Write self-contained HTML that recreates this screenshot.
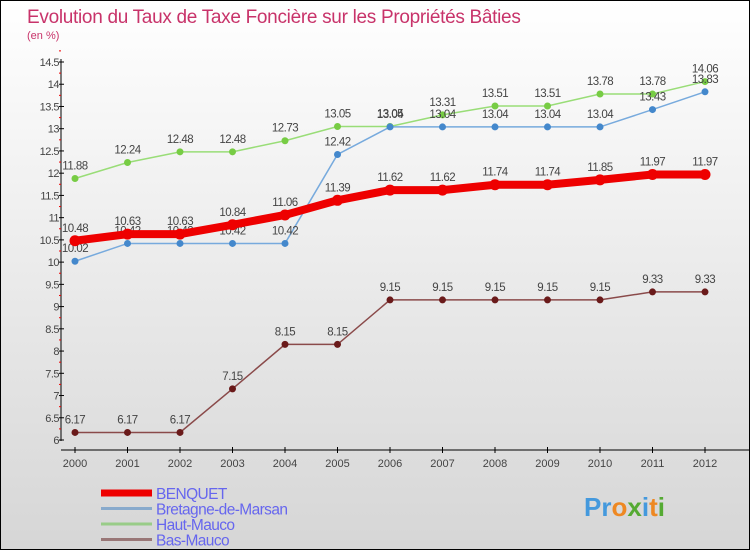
<!DOCTYPE html>
<html><head><meta charset="utf-8"><style>
body{margin:0}
#c{width:750px;height:550px;position:relative;box-sizing:border-box;border:1px solid #000;background:linear-gradient(#fff,#d6d6d6);font-family:"Liberation Sans",sans-serif;overflow:hidden}
</style></head><body>
<div id="c">
<svg id="s" width="748" height="548"></svg>
</div>
<script>
const years=[2000,2001,2002,2003,2004,2005,2006,2007,2008,2009,2010,2011,2012];
const benquet=[10.48,10.63,10.63,10.84,11.06,11.39,11.62,11.62,11.74,11.74,11.85,11.97,11.97];
const bretagne=[10.02,10.42,10.42,10.42,10.42,12.42,13.04,13.04,13.04,13.04,13.04,13.43,13.83];
const haut=[11.88,12.24,12.48,12.48,12.73,13.05,13.05,13.31,13.51,13.51,13.78,13.78,14.06];
const bas=[6.17,6.17,6.17,7.15,8.15,8.15,9.15,9.15,9.15,9.15,9.15,9.33,9.33];
const yTicks=[6,6.5,7,7.5,8,8.5,9,9.5,10,10.5,11,11.5,12,12.5,13,13.5,14,14.5];
const NS="http://www.w3.org/2000/svg",s=document.getElementById('s');
const X=i=>74+i*52.5, Y=v=>439-(v-6)*(378/8.5);
function el(t,a,p){const e=document.createElementNS(NS,t);for(const k in a)e.setAttribute(k,a[k]);(p||s).appendChild(e);return e;}
function tx(x,y,str,a){const e=el('text',Object.assign({x:x,y:y},a));e.textContent=str;return e;}
let t=tx(26,22,'Evolution du Taux de Taxe Foncière sur les Propriétés Bâties',{'font-size':19,fill:'#c8336a','letter-spacing':'-0.3'});

t=tx(26,38,'(en %)',{'font-size':11,fill:'#c8336a'});

let a=el('line',{x1:60,y1:58,x2:60,y2:440,stroke:'#000'});
a=el('line',{x1:60,y1:449,x2:748,y2:449,stroke:'#000'});
yTicks.forEach(v=>{el('line',{x1:58,x2:63,y1:Y(v),y2:Y(v),stroke:'#000'});
 el('line',{x1:58,x2:60,y1:Y(v+0.25),y2:Y(v+0.25),stroke:'#e00'});
 const l=tx(58,Y(v)+4,String(v),{'font-size':11,fill:'#444','text-anchor':'end','letter-spacing':'-0.5'});
 });
years.forEach((y,i)=>{el('line',{x1:X(i),x2:X(i),y1:446,y2:452,stroke:'#000'});
 const l=tx(X(i),466,String(y),{'font-size':11,fill:'#444','text-anchor':'middle'});
 });
function series(d,col,w,r,dot,name){
 const g=el('g',{});
 el('polyline',{points:d.map((v,i)=>X(i)+','+Y(v)).join(' '),fill:'none',stroke:col,'stroke-width':w},g);
 d.forEach((v,i)=>{const c=el('circle',{cx:X(i),cy:Y(v),r:r,fill:dot},g);
  
  const l=tx(X(i),Y(v)-9,String(v),{'font-size':11.5,fill:'#444','text-anchor':'middle','letter-spacing':'-0.5'},g);
  });
}
series(bas,'#8a4a4a',1.5,3.5,'#6a1a1a','bas-mauco');
series(haut,'#99dd77',1.5,3.5,'#77cc44','haut-mauco');
series(bretagne,'#77aadd',1.5,3.5,'#4488cc','bretagne');
series(benquet,'#ee0000',8,5.5,'#ee0000','benquet');
const names=['BENQUET','Bretagne-de-Marsan','Haut-Mauco','Bas-Mauco'],cols=['#ee0000','#88aacc','#99cc88','#997777'],ws=[7,3,3,3];
names.forEach((n,i)=>{const g=el('g',{});
 el('line',{x1:100,x2:151,y1:492+i*15.5,y2:492+i*15.5,stroke:cols[i],'stroke-width':ws[i]},g);
 tx(155,498+i*15.5,n,{'font-size':15.5,fill:'#6666ee','letter-spacing':'-0.6'},g);});
const p=tx(583,515,'',{'font-size':26,'font-weight':'bold'});
[['Pr','#4499dd'],['o','#ee8822'],['x','#55aa33'],['i','#4499dd'],['t','#ee8822'],['i','#55aa33']].forEach(q=>{const ts=el('tspan',{fill:q[1]},p);ts.textContent=q[0];});
</script>
</body></html>
